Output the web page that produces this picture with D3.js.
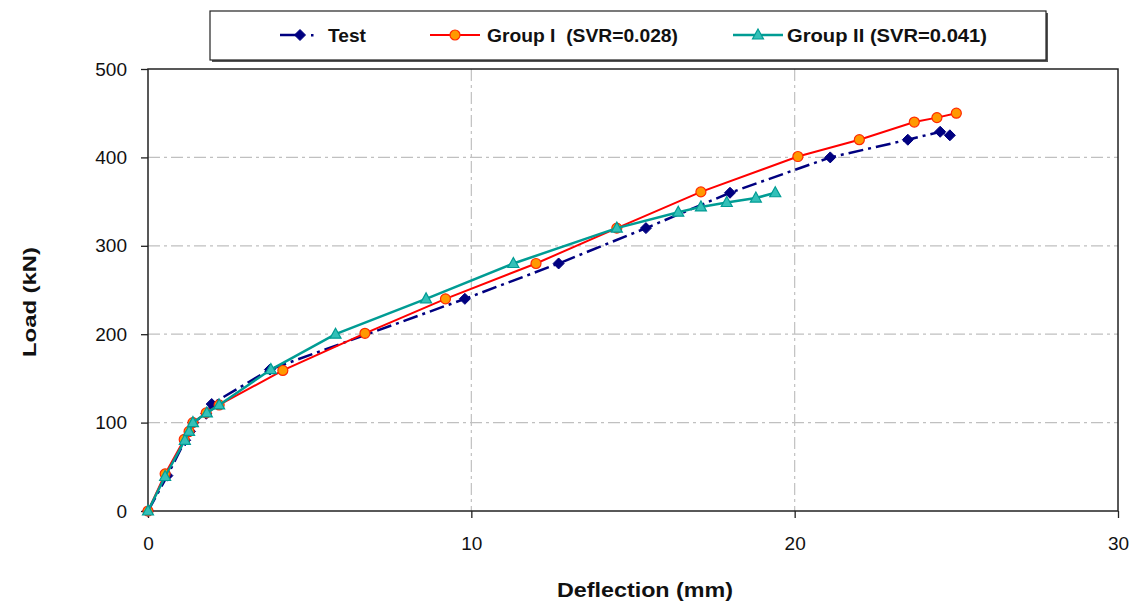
<!DOCTYPE html>
<html>
<head>
<meta charset="utf-8">
<script src="https://cdn.jsdelivr.net/npm/d3@7"></script>
<style>
  body { margin: 0; background: #fff; }
  text { font-family: "Liberation Sans", Arial, sans-serif; }
</style>
</head>
<body>
<script>
// load-deflection curves
const testX  = [0, 0.6, 1.15, 1.3, 1.4, 1.8, 1.97, 3.77, 9.8, 12.7, 15.4, 18.0, 21.1, 23.5, 24.5, 24.8];
const testY  = [0, 40, 80, 90, 100, 110, 121, 160, 240, 280, 320, 360, 400, 420, 429, 425];
const g1X    = [0, 0.53, 1.12, 1.27, 1.39, 1.8, 2.2, 4.17, 6.71, 9.2, 12.0, 14.5, 17.1, 20.1, 22.0, 23.7, 24.4, 25.0];
const g1Y    = [0, 42, 81, 90, 100, 111, 120, 159, 201, 240, 280, 320, 361, 401, 420, 440, 445, 450];
const g2X    = [0, 0.53, 1.14, 1.27, 1.39, 1.82, 2.2, 3.8, 5.8, 8.6, 11.3, 14.5, 16.4, 17.1, 17.9, 18.8, 19.4];
const g2Y    = [0, 39, 80, 90, 100, 111, 120, 160, 200, 240, 280, 320, 338, 344, 349, 354, 360];
const xTicks = [0, 10, 20, 30];
const yTicks = [0, 100, 200, 300, 400, 500];

const series = [
  { name: "Test", xs: testX, ys: testY, color: "#000080", dash: "15,5,3,5", width: 2.5, marker: "diamond" },
  { name: "Group I  (SVR=0.028)", xs: g1X, ys: g1Y, color: "#ff0000", dash: null, width: 2, marker: "circle" },
  { name: "Group II (SVR=0.041)", xs: g2X, ys: g2Y, color: "#009c94", dash: null, width: 2.5, marker: "triangle" }
];

const width = 1137, height = 603;
const mLeft = 148, mRight = 1118, mTop = 69, mBottom = 511;

const svg = d3.select("body").append("svg")
    .attr("width", width)
    .attr("height", height);

const x = d3.scaleLinear().domain([0, 30]).range([mLeft, mRight]);
const y = d3.scaleLinear().domain([0, 500]).range([mBottom, mTop]);

// grid
svg.selectAll(".hgrid")
    .data(yTicks.filter(d => d > 0 && d < 500))
    .enter().append("line")
    .attr("x1", mLeft).attr("x2", mRight)
    .attr("y1", d => y(d)).attr("y2", d => y(d))
    .style("stroke", "#c0c0c0")
    .style("stroke-width", 1.2)
    .style("stroke-dasharray", "12,4,3,4");

svg.selectAll(".vgrid")
    .data(xTicks.filter(d => d > 0 && d < 30))
    .enter().append("line")
    .attr("x1", d => x(d)).attr("x2", d => x(d))
    .attr("y1", mTop).attr("y2", mBottom)
    .style("stroke", "#c0c0c0")
    .style("stroke-width", 1.2)
    .style("stroke-dasharray", "12,4,3,4");

// axes
const xAxis = svg.append("g")
    .attr("transform", `translate(0,${mBottom})`)
    .call(d3.axisBottom(x).tickValues(xTicks).tickSize(7).tickPadding(19).tickFormat(d3.format("d")));
const yAxis = svg.append("g")
    .attr("transform", `translate(${mLeft},0)`)
    .call(d3.axisLeft(y).tickValues(yTicks).tickSize(7).tickPadding(14).tickFormat(d3.format("d")));

[xAxis, yAxis].forEach(a => {
  a.select(".domain").remove();
  a.selectAll("line").style("stroke", "#222").style("stroke-width", 1.3);
  a.selectAll("text").style("font-size", "19px").style("fill", "#111")
    .style("font-family", "'Liberation Sans', Arial, sans-serif");
});

svg.append("rect")
    .attr("x", mLeft).attr("y", mTop)
    .attr("width", mRight - mLeft).attr("height", mBottom - mTop)
    .style("fill", "none")
    .style("stroke", "#222")
    .style("stroke-width", 1.5);

// markers
function drawMarker(g, kind, color, cx, cy) {
  if (kind === "diamond") {
    g.append("path")
      .attr("d", `M${cx},${cy - 5.5}L${cx + 5.5},${cy}L${cx},${cy + 5.5}L${cx - 5.5},${cy}Z`)
      .style("fill", "#000080").style("stroke", "#000080");
  } else if (kind === "circle") {
    g.append("circle").attr("cx", cx).attr("cy", cy).attr("r", 5)
      .style("fill", "#ff9900").style("stroke", "#ff2a00").style("stroke-width", 1.2);
  } else {
    g.append("path")
      .attr("d", `M${cx},${cy - 6}L${cx + 5.5},${cy + 4}L${cx - 5.5},${cy + 4}Z`)
      .style("fill", "#33c0b8").style("stroke", "#009c94").style("stroke-width", 1.2);
  }
}

const line = d3.line().x(d => x(d[0])).y(d => y(d[1]));

series.forEach(s => {
  const pts = s.xs.map((v, i) => [v, s.ys[i]]);
  const g = svg.append("g");
  g.append("path")
    .datum(pts)
    .attr("d", line)
    .style("fill", "none")
    .style("stroke", s.color)
    .style("stroke-width", s.width)
    .style("stroke-dasharray", s.dash);
  pts.forEach(p => drawMarker(g, s.marker, s.color, x(p[0]), y(p[1])));
});

// axis titles
svg.append("text")
    .attr("x", 645).attr("y", 597)
    .attr("text-anchor", "middle")
    .attr("textLength", 176).attr("lengthAdjust", "spacingAndGlyphs")
    .style("font-size", "20px").style("font-weight", "bold").style("fill", "#111")
    .text("Deflection (mm)");

svg.append("text")
    .attr("transform", "translate(36,302) rotate(-90)")
    .attr("text-anchor", "middle")
    .attr("textLength", 110).attr("lengthAdjust", "spacingAndGlyphs")
    .style("font-size", "19px").style("font-weight", "bold").style("fill", "#111")
    .text("Load (kN)");

// legend
svg.append("rect")
    .attr("x", 212).attr("y", 13).attr("width", 836).attr("height", 49)
    .style("fill", "#555");
svg.append("rect")
    .attr("x", 210).attr("y", 11).attr("width", 836).attr("height", 49)
    .style("fill", "#fff").style("stroke", "#222").style("stroke-width", 1.2);

const legendX = [280, 430, 733];
const legendTextX = [328, 487, 787];
const legendTextW = [38, 191, 200];
series.forEach((s, i) => {
  const lx = legendX[i], ly = 35;
  const g = svg.append("g");
  if (s.marker === "diamond") {
    g.append("line").attr("x1", lx).attr("x2", lx + 22).attr("y1", ly).attr("y2", ly)
      .style("stroke", s.color).style("stroke-width", 2.5);
    drawMarker(g, s.marker, s.color, lx + 20, ly);
    g.append("rect").attr("x", lx + 31).attr("y", ly - 1).attr("width", 2.5).attr("height", 2.5)
      .style("fill", s.color);
  } else {
    g.append("line").attr("x1", lx).attr("x2", lx + 50).attr("y1", ly).attr("y2", ly)
      .style("stroke", s.color).style("stroke-width", s.width);
    drawMarker(g, s.marker, s.color, lx + 25, ly);
  }
  g.append("text")
    .attr("x", legendTextX[i]).attr("y", ly + 7)
    .attr("textLength", legendTextW[i]).attr("lengthAdjust", "spacingAndGlyphs")
    .style("font-size", "18px").style("font-weight", "bold").style("fill", "#111")
    .style("white-space", "pre")
    .attr("xml:space", "preserve")
    .text(s.name);
});
</script>
</body>
</html>
